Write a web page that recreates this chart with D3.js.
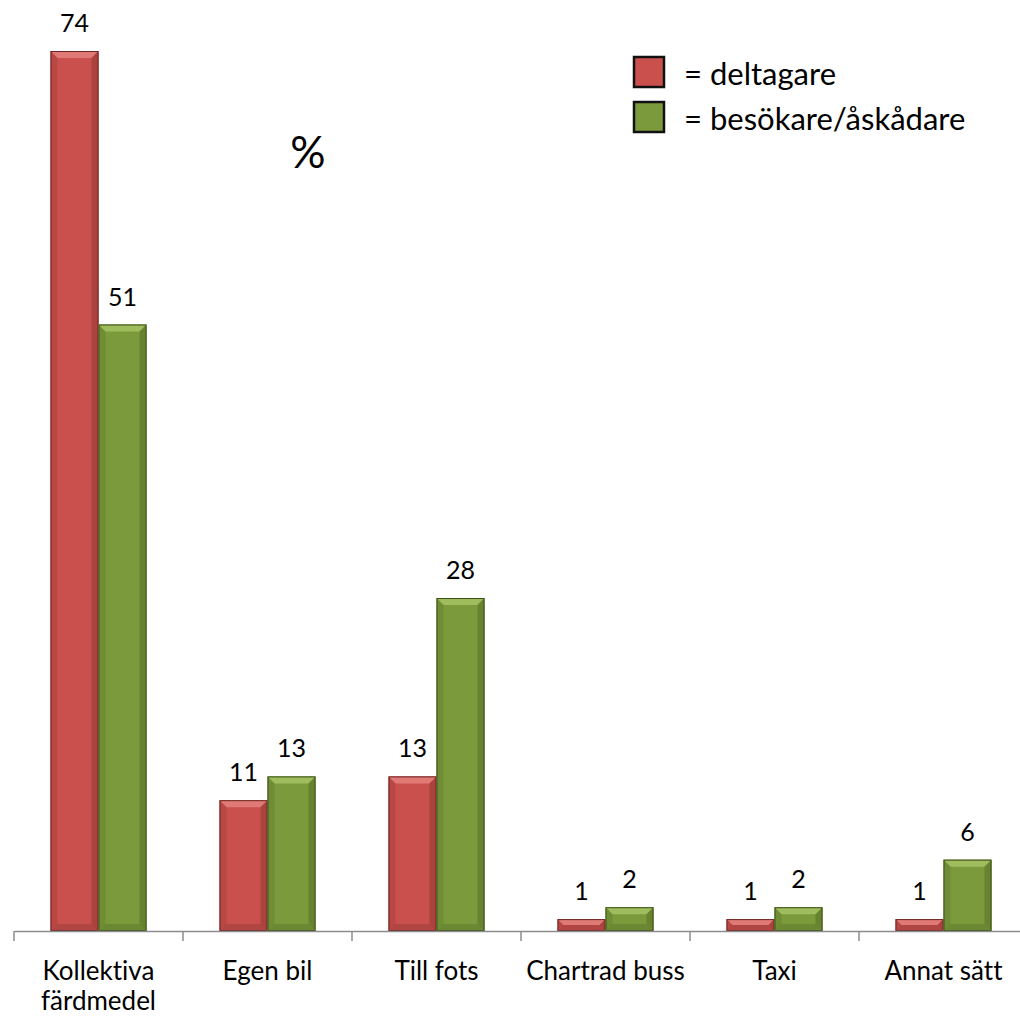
<!DOCTYPE html>
<html>
<head>
<meta charset="utf-8">
<script src="https://cdn.jsdelivr.net/npm/d3@7"></script>
<style>
  html, body { margin: 0; padding: 0; background: #fff; }
  svg { display: block; font-family: Lato, "Open Sans", "Noto Sans", sans-serif; font-variant-ligatures: none; }
</style>
</head>
<body>
<svg id="chart" width="1020" height="1017"></svg>
<script>
// Travel mode shares (%) for participants and visitors
const categories = [["Kollektiva", "färdmedel"], ["Egen bil"], ["Till fots"], ["Chartrad buss"], ["Taxi"], ["Annat sätt"]];
const deltagare = [74, 11, 13, 1, 1, 1];
const besokare = [51, 13, 28, 2, 2, 6];
const seriesNames = ["= deltagare", "= besökare/åskådare"];

const svg = d3.select("#chart");
const baseY = 931;
const x0 = 14, step = 169;

const x = d3.scaleBand()
  .domain(d3.range(categories.length))
  .range([x0, x0 + step * categories.length])
  .paddingInner(0).paddingOuter(0);

const y = d3.scaleLinear().domain([0, 74]).range([baseY, 51]);

const palette = [
  { base: "#c9504d", light: "#e07a77", dark: "#9a3936", edge: "#6e2624" },
  { base: "#7b9a3c", light: "#9fbd5c", dark: "#5b7528", edge: "#3d501a" }
];

const barW = 48;
const series = [deltagare, besokare];

// Bevelled bar: flat face with lighter top bevel and darker side/bottom bevels
function drawBar(g, xl, top, w, c) {
  const h = baseY - top;
  const b = Math.min(7, h / 2, w / 2);
  const xr = xl + w;
  g.append("rect").attr("x", xl).attr("y", top).attr("width", w).attr("height", h).attr("fill", c.base);
  g.append("polygon")
    .attr("points", [[xl, top], [xr, top], [xr - b, top + b], [xl + b, top + b]].join(" "))
    .attr("fill", c.light);
  g.append("polygon")
    .attr("points", [[xl, top], [xl + b, top + b], [xl + b, baseY - b], [xl, baseY]].join(" "))
    .attr("fill", c.dark).attr("opacity", 0.35);
  g.append("polygon")
    .attr("points", [[xr, top], [xr - b, top + b], [xr - b, baseY - b], [xr, baseY]].join(" "))
    .attr("fill", c.dark).attr("opacity", 0.6);
  g.append("polygon")
    .attr("points", [[xl, baseY], [xl + b, baseY - b], [xr - b, baseY - b], [xr, baseY]].join(" "))
    .attr("fill", c.dark).attr("opacity", 0.5);
  g.append("rect").attr("x", xl + 0.5).attr("y", top + 0.5).attr("width", w - 1).attr("height", h - 1)
    .attr("fill", "none").attr("stroke", c.edge).attr("stroke-width", 1);
}

const bars = svg.append("g");
categories.forEach((cat, i) => {
  const cx = x(i) + x.bandwidth() / 2;
  series.forEach((vals, s) => {
    const xl = cx - barW + s * barW;
    const top = y(vals[i]);
    drawBar(bars.append("g"), xl, top, barW, palette[s]);
    bars.append("text")
      .attr("x", xl + barW / 2).attr("y", top - 19)
      .attr("text-anchor", "middle")
      .attr("font-size", 25).attr("fill", "#000")
      .text(vals[i]);
  });
});

// Category axis
const axis = d3.axisBottom(x).tickSize(0).tickFormat("");
const axG = svg.append("g").attr("transform", `translate(0,${baseY})`).call(axis);
axG.select(".domain").attr("stroke", "#8c8c8c").attr("stroke-width", 1.5);
const bounds = d3.range(categories.length + 1).map(i => x0 + i * step);
axG.selectAll("line.sep").data(bounds).enter().append("line")
  .attr("class", "sep")
  .attr("x1", d => d).attr("x2", d => d).attr("y1", 0).attr("y2", 10)
  .attr("stroke", "#8c8c8c").attr("stroke-width", 1.5);

categories.forEach((cat, i) => {
  const cx = x(i) + x.bandwidth() / 2;
  const t = svg.append("text")
    .attr("x", cx)
    .attr("y", 980)
    .attr("text-anchor", "middle")
    .attr("font-size", 26).attr("fill", "#000");
  cat.forEach((line, k) => {
    t.append("tspan").attr("x", cx).attr("dy", k === 0 ? 0 : 30).text(line);
  });
});

// Unit label
svg.append("text").attr("x", 308).attr("y", 168).attr("text-anchor", "middle")
  .attr("font-size", 44).attr("fill", "#000").text("%");

// Legend
const legend = svg.append("g");
seriesNames.forEach((name, s) => {
  const ly = 57 + s * 45;
  legend.append("rect").attr("x", 634).attr("y", ly).attr("width", 30).attr("height", 30)
    .attr("fill", palette[s].base).attr("stroke", "#111").attr("stroke-width", 2.5);
  legend.append("text").attr("x", 684).attr("y", ly + 28)
    .attr("font-size", 31).attr("fill", "#000").text(name);
});
</script>
</body>
</html>
